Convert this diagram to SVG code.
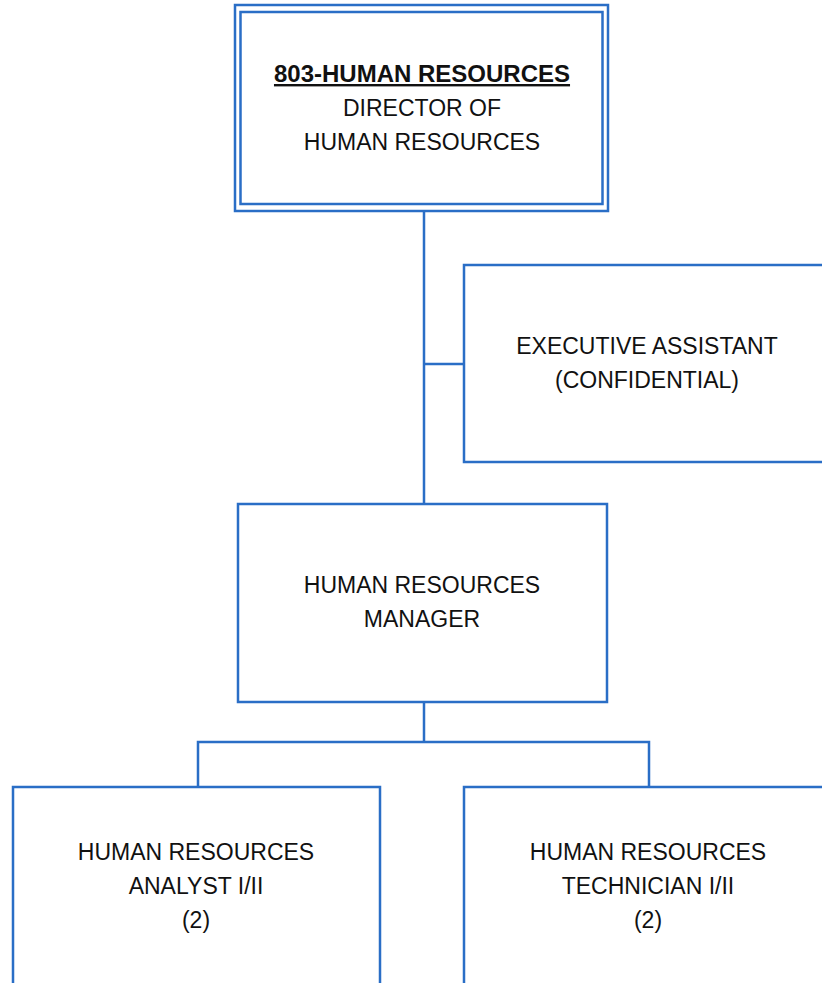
<svg xmlns="http://www.w3.org/2000/svg" width="822" height="983" viewBox="0 0 822 983">
<style>
.box{fill:#fff;stroke:#2A6EC6;stroke-width:2.5}
.conn{fill:none;stroke:#2A6EC6;stroke-width:2.5}
text{font-family:"Liberation Sans",Arial,sans-serif;font-size:23px;fill:#111;text-anchor:middle}
.b{font-weight:bold;text-decoration:underline;font-size:24px}
</style>
<rect width="822" height="983" fill="#fff"/>
<g id="connectors">
<path class="conn" d="M424 211V503"/>
<path class="conn" d="M424 364H464"/>
<path class="conn" d="M424 702V742"/>
<path class="conn" d="M198 787V742H649V787"/>
</g>
<g id="director">
<rect class="box" x="235" y="5" width="373" height="206"/>
<rect class="box" x="240.5" y="12" width="362" height="192"/>
<text x="422" y="82" class="b">803-HUMAN RESOURCES</text>
<text x="422" y="116">DIRECTOR OF</text>
<text x="422" y="150">HUMAN RESOURCES</text>
</g>
<g id="exec-assistant">
<rect class="box" x="464" y="265" width="370" height="197"/>
<text x="647" y="354">EXECUTIVE ASSISTANT</text>
<text x="647" y="388">(CONFIDENTIAL)</text>
</g>
<g id="manager">
<rect class="box" x="238" y="504" width="369" height="198"/>
<text x="422" y="593">HUMAN RESOURCES</text>
<text x="422" y="627">MANAGER</text>
</g>
<g id="analyst">
<rect class="box" x="13" y="787" width="367" height="210"/>
<text x="196" y="860">HUMAN RESOURCES</text>
<text x="196" y="894">ANALYST I/II</text>
<text x="196" y="928">(2)</text>
</g>
<g id="technician">
<rect class="box" x="464" y="787" width="370" height="210"/>
<text x="648" y="860">HUMAN RESOURCES</text>
<text x="648" y="894">TECHNICIAN I/II</text>
<text x="648" y="928">(2)</text>
</g>
</svg>
